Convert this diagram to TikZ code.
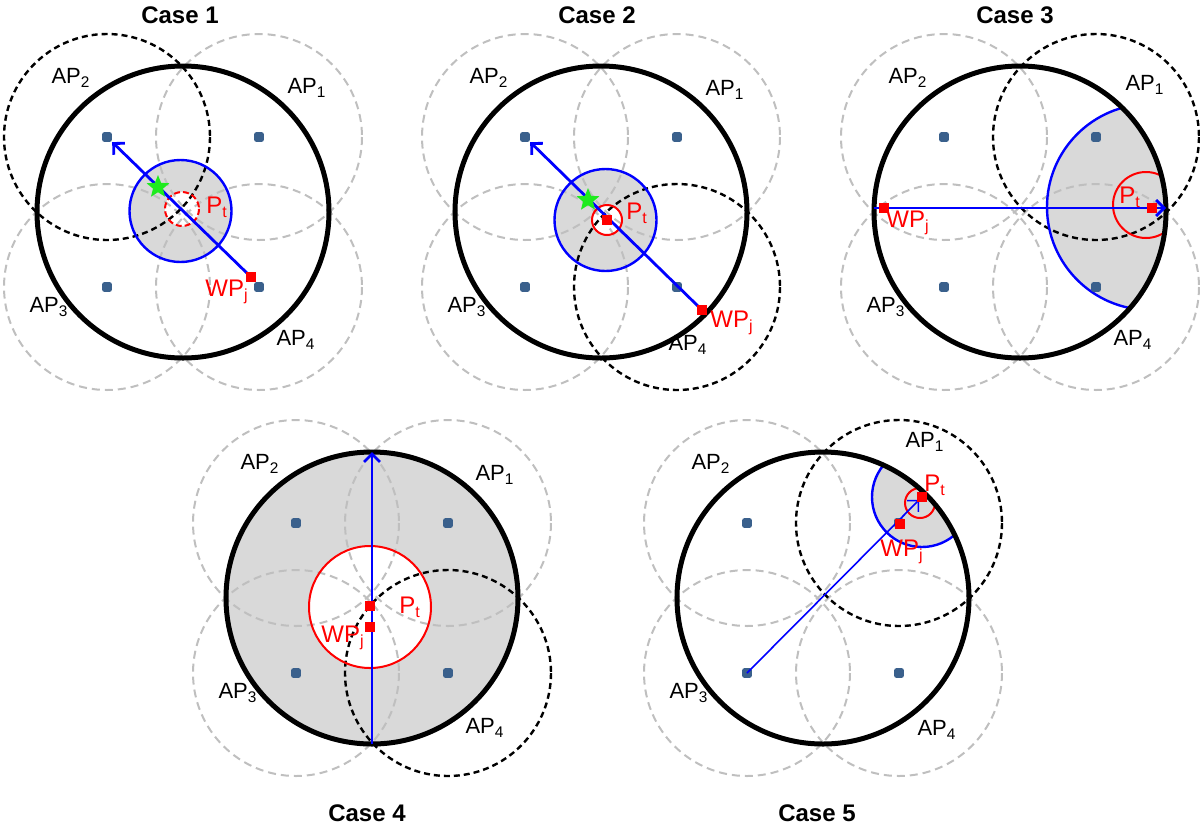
\documentclass[tikz,border=0pt]{standalone}
\usepackage{fontspec}
\setmainfont{Liberation Sans}
\usetikzlibrary{arrows.meta,calc,shapes.geometric}
\definecolor{apblue}{RGB}{58,96,140}
\definecolor{stargreen}{RGB}{30,235,30}

\begin{document}
\begin{tikzpicture}[
  x=0.5pt, y=-0.5pt,
  >={Straight Barb[length=4pt,width=8pt]},
  cover/.style={draw=gray!50, line width=1pt, dash pattern=on 4pt off 2.5pt},
  chosen/.style={draw=black, line width=1.2pt, dash pattern=on 3pt off 2pt},
  field/.style={draw=black, line width=2.5pt},
  zone/.style={fill=gray!30},
  hole/.style={fill=white},
  bound/.style={draw=blue, line width=1.2pt},
  ring/.style={draw=red, line width=1pt},
  route/.style={draw=blue, line width=1.4pt, ->},
  apdot/.style={rectangle, fill=apblue, minimum size=4.8pt, inner sep=0pt, rounded corners=1pt},
  wpdot/.style={rectangle, fill=red, minimum size=5pt, inner sep=0pt},
  best/.style={star, star points=5, star point ratio=2.3, fill=stargreen, minimum size=12pt, inner sep=0pt},
  aplbl/.style={font=\fontsize{11}{13}\selectfont},
  redlbl/.style={font=\fontsize{12}{14}\selectfont, text=red},
  casetitle/.style={font=\fontsize{12}{14}\selectfont\bfseries},
]
  \useasboundingbox (0,0) rectangle (1200,826);

  % Centres and access points
  \foreach \p/\cx/\cy in {1/183/212,2/601/212,3/1020/212,4/372/598,5/823/598}{
    \coordinate (o\p) at (\cx,\cy);
    \foreach \i/\dx/\dy in {1/76/-75,2/-76/-75,3/-76/75,4/76/75}
      \coordinate (ap\p-\i) at ($(o\p)+(\dx,\dy)$);
  }

  % Points of each case
  \coordinate (pt1) at ($(o1)+(-1,-3)$);
  \coordinate (wp1) at ($(o1)+(68,65)$);
  \coordinate (pt2) at ($(o2)+(6,8)$);
  \coordinate (wp2) at ($(o2)+(101,98)$);
  \coordinate (pt3) at ($(o3)+(132,-4)$);
  \coordinate (wp3) at ($(o3)+(-136,-4)$);
  \coordinate (pt4) at ($(o4)+(-2,8)$);
  \coordinate (wp4) at ($(o4)+(-2,29)$);
  \coordinate (pt5) at ($(o5)+(99,-101)$);
  \coordinate (wp5) at ($(o5)+(77,-74)$);

  % Shaded regions
  \fill[zone] ($(o1)+(-2.5,-1)$) circle[radius=51];
  \fill[hole] (pt1) circle[radius=17];
  \fill[zone] ($(o2)+(4.5,8)$) circle[radius=51];
  \fill[hole] (pt2) circle[radius=15];
  \begin{scope}
    \clip (o3) circle[radius=146];
    \fill[zone] ($(o3)+(130,-5)$) circle[radius=103];
  \end{scope}
  \fill[zone] (o4) circle[radius=146];
  \fill[hole] ($(o4)+(-2,9)$) circle[radius=61];
  \begin{scope}
    \clip (o5) circle[radius=146];
    \fill[zone] (pt5) circle[radius=50];
  \end{scope}

  % AP coverage
  \foreach \p/\s in {1/2,2/4,3/1,4/4,5/1}{
    \foreach \i in {1,...,4}{
      \ifnum\i=\s\else
        \draw[cover] (ap\p-\i) circle[radius=103];
      \fi
    }
    \draw[chosen] (ap\p-\s) circle[radius=103];
  }

  % Boundaries
  \draw[bound] ($(o1)+(-2.5,-1)$) circle[radius=51];
  \draw[ring, dash pattern=on 3pt off 1.5pt] (pt1) circle[radius=17];
  \draw[bound] ($(o2)+(4.5,8)$) circle[radius=51];
  \draw[ring] (pt2) circle[radius=15];
  \begin{scope}
    \clip (o3) circle[radius=146];
    \draw[bound] ($(o3)+(130,-5)$) circle[radius=103];
    \draw[ring] ($(o3)+(126,-7)$) circle[radius=33];
  \end{scope}
  \draw[ring] ($(o4)+(-2,9)$) circle[radius=61];
  \begin{scope}
    \clip (o5) circle[radius=146];
    \draw[bound] (pt5) circle[radius=50];
    \draw[ring] ($(o5)+(97,-95)$) circle[radius=15];
  \end{scope}

  % Service areas and APs
  \foreach \p in {1,...,5}{
    \draw[field] (o\p) circle[radius=146];
    \foreach \i in {1,...,4}
      \node[apdot] (d\p-\i) at (ap\p-\i) {};
  }

  % Routes
  \coordinate (w3) at ($(o3)+(-146,-4)$);
  \coordinate (e3) at ($(o3)+(146,-4)$);
  \coordinate (s4) at ($(o4)+(0,146)$);
  \coordinate (n4) at ($(o4)+(0,-146)$);
  \draw[route] (wp1) -- (d1-2);
  \draw[route] (wp2) -- (d2-2);
  \draw[route] (w3) -- (e3);
  \draw[route] (s4) -- (n4);
  \draw[route, line width=0.8pt, shorten >=2pt] (ap5-3) -- (pt5);

  % Waypoints and estimates
  \node[wpdot] (wpn1) at (wp1) {};
  \node[wpdot] (ptn2) at (pt2) {};
  \node[wpdot] (wpn2) at (wp2) {};
  \node[wpdot] (ptn3) at (pt3) {};
  \node[wpdot] (wpn3) at (wp3) {};
  \node[wpdot] (ptn4) at (pt4) {};
  \node[wpdot] (wpn4) at (wp4) {};
  \node[wpdot] (ptn5) at (pt5) {};
  \node[wpdot] (wpn5) at (wp5) {};
  \node[best] (star1) at ($(o1)+(-25,-25)$) {};
  \node[best] (star2) at ($(o2)+(-13,-12)$) {};

  % Labels
  \foreach \p/\ax/\ay/\bx/\by in {1/124/-124/113/128, 2/124/-122/87/133,
      3/125/-127/113/128, 4/123/-123/113/130, 5/102/-156/114/132}{
    \node[aplbl] (l\p-1) at ($(o\p)+(\ax,\ay)$) {AP\textsubscript{1}};
    \node[aplbl] (l\p-2) at ($(o\p)+(-112,-134)$) {AP\textsubscript{2}};
    \node[aplbl] (l\p-3) at ($(o\p)+(-134,95)$) {AP\textsubscript{3}};
    \node[aplbl] (l\p-4) at ($(o\p)+(\bx,\by)$) {AP\textsubscript{4}};
  }
  \node[redlbl] (ptl1) at ($(o1)+(34,-5)$) {P\textsubscript{t}};
  \node[redlbl] (wpl1) at ($(o1)+(44,80)$) {WP\textsubscript{j}};
  \node[redlbl] (ptl2) at ($(o2)+(36,1)$) {P\textsubscript{t}};
  \node[redlbl] (wpl2) at ($(o2)+(131,111)$) {WP\textsubscript{j}};
  \node[redlbl] (ptl3) at ($(o3)+(110,-15)$) {P\textsubscript{t}};
  \node[redlbl] (wpl3) at ($(o3)+(-112,11)$) {WP\textsubscript{j}};
  \node[redlbl] (ptl4) at ($(o4)+(38,9)$) {P\textsubscript{t}};
  \node[redlbl] (wpl4) at ($(o4)+(-29,40)$) {WP\textsubscript{j}};
  \node[redlbl] (ptl5) at ($(o5)+(112,-113)$) {P\textsubscript{t}};
  \node[redlbl] (wpl5) at ($(o5)+(79,-46)$) {WP\textsubscript{j}};

  % Titles
  \node[casetitle] (t1) at (180,15) {Case 1};
  \node[casetitle] (t2) at (597,15) {Case 2};
  \node[casetitle] (t3) at (1015,15) {Case 3};
  \node[casetitle] (t4) at (367,813) {Case 4};
  \node[casetitle] (t5) at (817,813) {Case 5};
\end{tikzpicture}
\end{document}
